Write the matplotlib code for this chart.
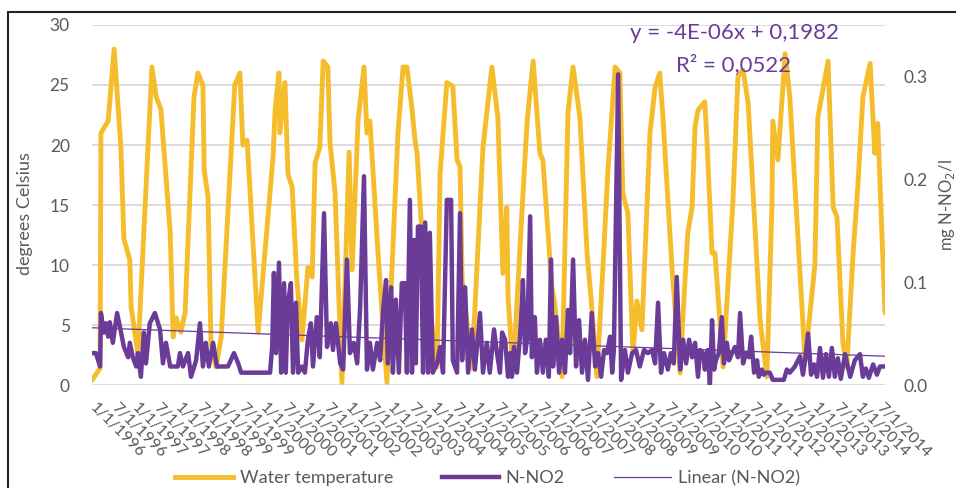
import numpy as np
import matplotlib.pyplot as plt
from matplotlib.lines import Line2D
from matplotlib.patches import Rectangle

plt.rcParams['font.family'] = ['Lato', 'DejaVu Sans']

# fechas en anios decimales
t_temp = [1996.00, 1996.19, 1996.21, 1996.38, 1996.52, 1996.68, 1996.75, 1996.89, 1996.92, 1997.08,
          1997.41, 1997.51, 1997.62, 1997.84, 1997.91, 1997.98, 1998.09, 1998.19, 1998.40, 1998.49,
          1998.61, 1998.64, 1998.73, 1998.80, 1998.92, 1999.04, 1999.36, 1999.48, 1999.55, 1999.65,
          1999.91, 2000.19, 2000.26, 2000.31, 2000.40, 2000.42, 2000.54, 2000.61, 2000.71, 2000.82,
          2000.94, 2001.08, 2001.18, 2001.25, 2001.36, 2001.44, 2001.55, 2001.60, 2001.72, 2001.88,
          2002.05, 2002.12, 2002.26, 2002.40, 2002.47, 2002.54, 2002.73, 2002.94, 2003.20, 2003.32,
          2003.41, 2003.53, 2003.60, 2003.65, 2003.79, 2004.12, 2004.19, 2004.35, 2004.49, 2004.59,
          2004.66, 2004.71, 2004.94, 2005.20, 2005.41, 2005.55, 2005.67, 2005.76, 2005.79, 2005.91,
          2006.12, 2006.24, 2006.38, 2006.54, 2006.61, 2006.82, 2006.89, 2007.06, 2007.20, 2007.32,
          2007.48, 2007.65, 2007.76, 2007.88, 2008.02, 2008.14, 2008.31, 2008.42, 2008.49, 2008.61,
          2008.73, 2008.82, 2008.94, 2009.13, 2009.25, 2009.36, 2009.44, 2009.65, 2009.84, 2009.91,
          2010.02, 2010.12, 2010.19, 2010.26, 2010.42, 2010.47, 2010.59, 2010.66, 2010.85, 2011.08,
          2011.20, 2011.32, 2011.44, 2011.72, 2011.88, 2012.00, 2012.02, 2012.14, 2012.31, 2012.42,
          2012.66, 2012.78, 2013.01, 2013.08, 2013.32, 2013.44, 2013.53, 2013.67, 2013.76, 2013.91,
          2014.02, 2014.14, 2014.31, 2014.42, 2014.49, 2014.59, 2014.66]
water_temp = [0.4, 1.4, 21.0, 22.0, 28.0, 19.8, 12.2, 10.4, 6.5, 2.6,
              26.5, 24.0, 23.0, 12.7, 4.0, 5.6, 4.4, 6.0, 24.0, 26.0,
              25.0, 17.9, 15.7, 3.5, 1.5, 4.0, 25.0, 26.0, 20.0, 20.4,
              4.4, 16.0, 19.0, 23.0, 26.0, 21.0, 25.2, 17.6, 16.5, 8.75,
              3.75, 9.8, 9.0, 18.5, 19.8, 27.0, 26.5, 20.2, 16.0, 0.2,
              19.4, 9.6, 22.0, 26.5, 21.0, 22.0, 11.0, 0.2, 21.0, 26.5,
              26.5, 23.0, 20.4, 19.3, 11.0, 1.5, 17.6, 25.2, 24.9, 18.75,
              18.2, 8.75, 1.4, 19.8, 26.5, 22.3, 9.3, 14.8, 7.3, 1.0,
              14.6, 22.0, 27.0, 19.3, 18.75, 8.2, 6.8, 0.7, 22.7, 26.5,
              22.3, 11.0, 6.5, 0.7, 9.6, 17.9, 26.5, 26.0, 16.0, 14.3,
              2.6, 7.0, 4.6, 21.0, 24.8, 26.0, 22.0, 9.6, 1.0, 6.0,
              12.7, 14.8, 21.5, 22.9, 23.6, 20.4, 11.0, 11.0, 1.5, 15.2,
              25.7, 26.25, 23.5, 5.4, 0.7, 15.0, 22.0, 18.75, 27.6, 24.0,
              9.3, 2.0, 10.0, 22.3, 27.0, 14.8, 14.0, 3.5, 1.5, 11.0,
              16.5, 24.0, 26.8, 19.3, 21.8, 12.3, 6.0]

t_no2 = [1996.00, 1996.09, 1996.19, 1996.21, 1996.28, 1996.33, 1996.38, 1996.42, 1996.49, 1996.59,
         1996.66, 1996.75, 1996.85, 1996.89, 1996.96, 1997.04, 1997.08, 1997.15, 1997.22, 1997.27,
         1997.36, 1997.48, 1997.60, 1997.67, 1997.74, 1997.84, 1998.02, 1998.07, 1998.14, 1998.26,
         1998.33, 1998.45, 1998.54, 1998.61, 1998.68, 1998.75, 1998.85, 1998.94, 1999.20, 1999.34,
         1999.44, 1999.51, 2000.19, 2000.24, 2000.28, 2000.33, 2000.40, 2000.45, 2000.52, 2000.56,
         2000.61, 2000.68, 2000.73, 2000.80, 2000.85, 2000.94, 2001.01, 2001.08, 2001.15, 2001.20,
         2001.29, 2001.36, 2001.46, 2001.53, 2001.62, 2001.67, 2001.74, 2001.84, 2001.91, 2002.00,
         2002.07, 2002.16, 2002.24, 2002.31, 2002.40, 2002.47, 2002.54, 2002.61, 2002.71, 2002.78,
         2002.85, 2002.92, 2002.96, 2003.04, 2003.08, 2003.15, 2003.22, 2003.29, 2003.36, 2003.41,
         2003.48, 2003.53, 2003.58, 2003.62, 2003.67, 2003.74, 2003.79, 2003.84, 2003.91, 2003.95,
         2004.02, 2004.12, 2004.19, 2004.26, 2004.35, 2004.45, 2004.49, 2004.59, 2004.66, 2004.71,
         2004.78, 2004.85, 2004.94, 2005.01, 2005.13, 2005.20, 2005.29, 2005.36, 2005.46, 2005.53,
         2005.60, 2005.65, 2005.72, 2005.79, 2005.84, 2005.88, 2005.93, 2006.00, 2006.07, 2006.12,
         2006.14, 2006.19, 2006.24, 2006.31, 2006.35, 2006.42, 2006.47, 2006.54, 2006.61, 2006.68,
         2006.75, 2006.80, 2006.85, 2006.92, 2006.99, 2007.06, 2007.13, 2007.20, 2007.25, 2007.32,
         2007.39, 2007.46, 2007.53, 2007.60, 2007.67, 2007.76, 2007.84, 2007.91, 2007.98, 2008.05,
         2008.12, 2008.19, 2008.24, 2008.28, 2008.38, 2008.45, 2008.54, 2008.61, 2008.71, 2008.80,
         2008.89, 2008.99, 2009.08, 2009.18, 2009.25, 2009.32, 2009.39, 2009.46, 2009.55, 2009.62,
         2009.69, 2009.76, 2009.84, 2009.91, 2009.98, 2010.05, 2010.12, 2010.19, 2010.26, 2010.31,
         2010.38, 2010.42, 2010.49, 2010.54, 2010.59, 2010.64, 2010.68, 2010.75, 2010.82, 2010.87,
         2010.94, 2010.99, 2011.06, 2011.13, 2011.20, 2011.25, 2011.32, 2011.39, 2011.46, 2011.51,
         2011.58, 2011.65, 2011.69, 2011.76, 2011.81, 2011.86, 2011.95, 2012.02, 2012.19, 2012.28,
         2012.35, 2012.42, 2012.54, 2012.66, 2012.73, 2012.78, 2012.85, 2012.92, 2012.99, 2013.06,
         2013.13, 2013.20, 2013.27, 2013.34, 2013.41, 2013.48, 2013.55, 2013.62, 2013.72, 2013.84,
         2013.95, 2014.07, 2014.14, 2014.21, 2014.28, 2014.38, 2014.47, 2014.54, 2014.66]
n_no2 = [0.031, 0.031, 0.018, 0.070, 0.051, 0.060, 0.047, 0.061, 0.041, 0.070,
         0.056, 0.037, 0.027, 0.041, 0.027, 0.018, 0.031, 0.008, 0.051, 0.021,
         0.060, 0.070, 0.054, 0.021, 0.041, 0.018, 0.018, 0.031, 0.018, 0.031,
         0.008, 0.024, 0.060, 0.018, 0.041, 0.018, 0.041, 0.018, 0.018, 0.031,
         0.021, 0.012, 0.012, 0.037, 0.109, 0.031, 0.119, 0.012, 0.099, 0.012,
         0.080, 0.099, 0.012, 0.080, 0.012, 0.018, 0.012, 0.044, 0.060, 0.018,
         0.066, 0.027, 0.167, 0.037, 0.060, 0.034, 0.060, 0.021, 0.015, 0.122,
         0.031, 0.041, 0.021, 0.076, 0.203, 0.015, 0.041, 0.015, 0.041, 0.024,
         0.073, 0.102, 0.021, 0.095, 0.012, 0.083, 0.012, 0.099, 0.099, 0.012,
         0.180, 0.012, 0.141, 0.021, 0.154, 0.154, 0.012, 0.158, 0.012, 0.148,
         0.012, 0.021, 0.037, 0.012, 0.180, 0.180, 0.024, 0.012, 0.167, 0.024,
         0.095, 0.012, 0.054, 0.015, 0.070, 0.012, 0.041, 0.012, 0.054, 0.031,
         0.012, 0.051, 0.044, 0.008, 0.031, 0.008, 0.037, 0.012, 0.047, 0.083,
         0.102, 0.031, 0.044, 0.164, 0.027, 0.066, 0.012, 0.044, 0.012, 0.044,
         0.008, 0.122, 0.018, 0.066, 0.012, 0.044, 0.012, 0.073, 0.031, 0.122,
         0.018, 0.063, 0.012, 0.044, 0.005, 0.070, 0.018, 0.031, 0.008, 0.034,
         0.031, 0.047, 0.012, 0.034, 0.302, 0.005, 0.034, 0.012, 0.031, 0.034,
         0.018, 0.034, 0.031, 0.034, 0.021, 0.080, 0.012, 0.031, 0.015, 0.031,
         0.021, 0.105, 0.015, 0.044, 0.021, 0.044, 0.027, 0.041, 0.008, 0.034,
         0.031, 0.015, 0.034, 0.000, 0.063, 0.015, 0.024, 0.031, 0.066, 0.021,
         0.041, 0.024, 0.031, 0.037, 0.027, 0.070, 0.021, 0.031, 0.027, 0.047,
         0.012, 0.024, 0.008, 0.015, 0.010, 0.012, 0.012, 0.005, 0.005, 0.005,
         0.015, 0.012, 0.018, 0.028, 0.010, 0.024, 0.050, 0.010, 0.020, 0.008,
         0.036, 0.007, 0.030, 0.008, 0.036, 0.008, 0.026, 0.006, 0.030, 0.008,
         0.024, 0.030, 0.008, 0.016, 0.007, 0.020, 0.010, 0.018, 0.018]

years = list(range(1996, 2015))
tick_pos = [y + h for y in years for h in (0.0, 0.5)]
tick_labels = [f'{m}/1/{y}' for y in years for m in (1, 7)]

amarillo = '#F5BC2C'
violeta = '#6A3C98'
gris = '#595959'

fig = plt.figure(figsize=(9.56, 4.88), dpi=100)
ax = fig.add_axes([92/956, 103/488, 793/956, 360/488])
ax2 = ax.twinx()

ax.plot(t_temp, water_temp, color=amarillo, lw=3.5, solid_joinstyle='round', solid_capstyle='round')
ax2.plot(t_no2, n_no2, color=violeta, lw=3.2, solid_joinstyle='round', solid_capstyle='round')

# linea de tendencia lineal
coef = np.polyfit(t_no2, n_no2, 1)
xt = np.array([1996.0, 2014.66])
ax2.plot(xt, np.polyval(coef, xt), color=violeta, lw=0.9)

ax.set_xlim(1996.0, 2014.66)
ax.set_ylim(0, 30)
ax.set_yticks(range(0, 31, 5))
ax2.set_ylim(0, 0.35)
ax2.set_yticks([0.0, 0.1, 0.2, 0.3])
ax2.set_yticklabels(['0.0', '0.1', '0.2', '0.3'])

ax.grid(axis='y', color='#D9D9D9', lw=1.3)
ax.set_axisbelow(True)
for a in (ax, ax2):
    for s in a.spines.values():
        s.set_visible(False)

ax.set_xticks(tick_pos)
ax.set_xticklabels(tick_labels, rotation=-45, ha='left', va='center', rotation_mode='anchor')
ax.tick_params(axis='x', length=0, pad=15, labelsize=11.5, labelcolor=gris)
ax.tick_params(axis='y', length=0, pad=16, labelsize=12.5, labelcolor=gris)
ax2.tick_params(axis='y', length=0, pad=13, labelsize=12.5, labelcolor=gris)

ax.set_ylabel('degrees Celsius', fontsize=13, color=gris)
ax.yaxis.set_label_coords(-0.0744, 0.475)
ax2.set_ylabel('mg N-NO$_2$/l', fontsize=12, color=gris)
ax2.yaxis.set_label_coords(1.065, 0.5)

fig.text(734/956, 1 - 33/488, 'y = -4E-06x + 0,1982', ha='center', va='center', fontsize=16, color=violeta)
fig.text(734/956, 1 - 65/488, 'R² = 0,0522', ha='center', va='center', fontsize=16, color=violeta)

handles = [Line2D([], [], color=amarillo, lw=3.5),
           Line2D([], [], color=violeta, lw=3.2),
           Line2D([], [], color=violeta, lw=0.9)]
fig.legend(handles, ['Water temperature', 'N-NO2', 'Linear (N-NO2)'], loc='center',
           bbox_to_anchor=(0.51, 1 - 478/488), ncol=3, frameon=False, fontsize=13,
           handlelength=3.2, handletextpad=0.35, columnspacing=2.7, labelcolor=gris)

# marco del grafico
fig.patches.append(Rectangle((8/956, -0.1), 1.2, 1.1 - 12/488, transform=fig.transFigure,
                             fill=False, edgecolor='#222222', lw=1.5, clip_on=False))

fig.savefig('out.png', dpi=100)
